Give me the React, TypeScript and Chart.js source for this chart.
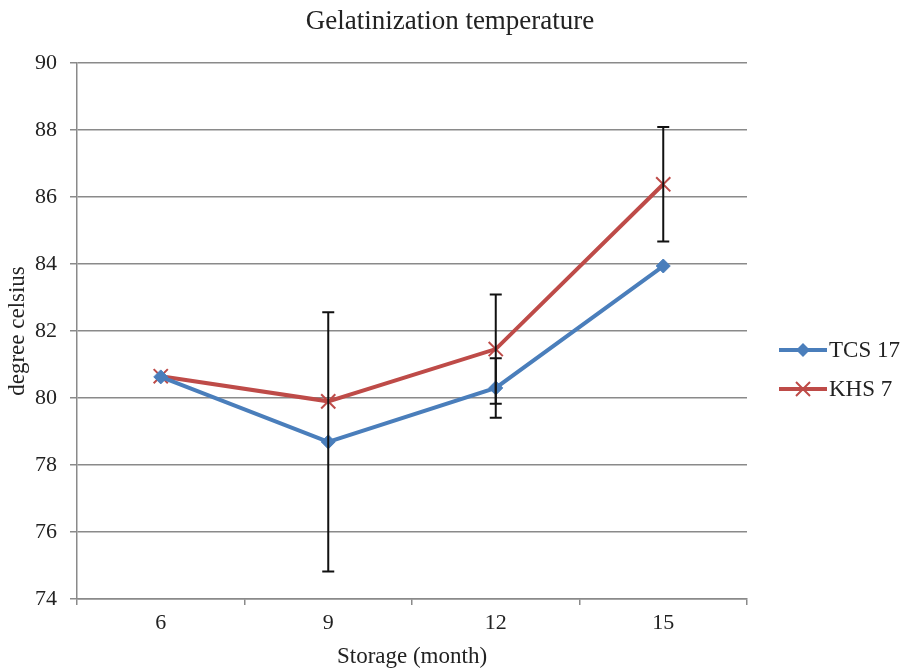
import React, { useEffect, useRef } from "react";
import { Chart, registerables } from "chart.js";

Chart.register(...registerables);

const categories = ["6", "9", "12", "15"];
const tcs17 = [80.63, 78.69, 80.3, 83.94];
const khs7 = [80.65, 79.9, 81.46, 86.38];
const tcs17Err = [0, 3.87, 0.89, 0];
const khs7Err = [0, 0, 1.63, 1.71];
const yTicks = [74, 76, 78, 80, 82, 84, 86, 88, 90];
const titleText = "Gelatinization temperature";

const BLUE = "#4A7EBB";
const RED = "#BE4B48";
const GRID = "#8a8a8a";
const FONT = "'Liberation Serif', 'Times New Roman', serif";

const errorBarPlugin = {
  id: "errorBars",
  afterDatasetsDraw(chart: any) {
    const ctx = chart.ctx;
    const x = chart.scales.x;
    const y = chart.scales.y;
    const errs = [tcs17Err, khs7Err];
    ctx.save();
    ctx.strokeStyle = "#111";
    ctx.lineWidth = 2;
    chart.data.datasets.forEach((ds: any, di: number) => {
      ds.data.forEach((v: number, i: number) => {
        const e = errs[di][i];
        if (!e) return;
        const px = x.getPixelForValue(i);
        const top = y.getPixelForValue(v + e);
        const bot = y.getPixelForValue(v - e);
        ctx.beginPath();
        ctx.moveTo(px, top);
        ctx.lineTo(px, bot);
        ctx.moveTo(px - 6, top);
        ctx.lineTo(px + 6, top);
        ctx.moveTo(px - 6, bot);
        ctx.lineTo(px + 6, bot);
        ctx.stroke();
      });
    });
    ctx.restore();
  },
};

const titleAndLegendPlugin = {
  id: "customLegend",
  afterDraw(chart: any) {
    const ctx = chart.ctx;
    ctx.save();
    ctx.fillStyle = "#222";
    ctx.font = `27px ${FONT}`;
    ctx.textAlign = "center";
    ctx.textBaseline = "middle";
    ctx.fillText(titleText, 450, 22);

    const items = chart.data.datasets;
    const x0 = 779;
    const x1 = 827;
    const ys = [350, 389];
    items.forEach((ds: any, i: number) => {
      const yy = ys[i];
      ctx.strokeStyle = ds.borderColor;
      ctx.lineWidth = 4;
      ctx.beginPath();
      ctx.moveTo(x0, yy);
      ctx.lineTo(x1, yy);
      ctx.stroke();
      const mx = (x0 + x1) / 2;
      if (ds.pointStyle === "rectRot") {
        ctx.fillStyle = ds.borderColor;
        ctx.beginPath();
        ctx.moveTo(mx, yy - 7);
        ctx.lineTo(mx + 7, yy);
        ctx.lineTo(mx, yy + 7);
        ctx.lineTo(mx - 7, yy);
        ctx.closePath();
        ctx.fill();
      } else {
        ctx.lineWidth = 2;
        ctx.beginPath();
        ctx.moveTo(mx - 7, yy - 7);
        ctx.lineTo(mx + 7, yy + 7);
        ctx.moveTo(mx + 7, yy - 7);
        ctx.lineTo(mx - 7, yy + 7);
        ctx.stroke();
      }
      ctx.fillStyle = "#222";
      ctx.font = `23px ${FONT}`;
      ctx.textBaseline = "middle";
      ctx.textAlign = "left";
      ctx.fillText(ds.label, 829, yy + 1);
    });
    ctx.restore();
  },
};

export default function App() {
  const ref = useRef<HTMLCanvasElement | null>(null);
  useEffect(() => {
    if (!ref.current) return;
    const chart = new Chart(ref.current, {
      type: "line",
      data: {
        labels: categories,
        datasets: [
          {
            label: "TCS 17",
            data: tcs17,
            borderColor: BLUE,
            backgroundColor: BLUE,
            borderWidth: 4,
            pointStyle: "rectRot",
            pointRadius: 7,
            pointBackgroundColor: BLUE,
            pointBorderColor: BLUE,
            pointBorderWidth: 1,
            tension: 0,
          },
          {
            label: "KHS 7",
            data: khs7,
            borderColor: RED,
            backgroundColor: RED,
            borderWidth: 4,
            pointStyle: "crossRot",
            pointRadius: 10,
            pointBorderColor: RED,
            pointBorderWidth: 2,
            tension: 0,
          },
        ],
      },
      options: {
        animation: false,
        responsive: false,
        maintainAspectRatio: false,
        layout: { padding: { left: 0, right: 157, top: 63, bottom: 0 } },
        plugins: {
          legend: { display: false },
          tooltip: { enabled: false },
          title: { display: false },
        },
        scales: {
          x: {
            type: "category",
            offset: true,
            grid: {
              offset: true,
              drawOnChartArea: false,
              drawTicks: true,
              tickLength: 6,
              color: GRID,
              lineWidth: 1.5,
            },
            border: { color: GRID, width: 1.5 },
            ticks: {
              color: "#222",
              font: { family: FONT, size: 22 },
              padding: 5,
              maxRotation: 0,
            },
            title: {
              display: true,
              text: "Storage (month)",
              color: "#222",
              font: { family: FONT, size: 23 },
              padding: { top: 0, bottom: 1 },
            },
            afterFit(scale: any) {
              scale.height = 73;
            },
          },
          y: {
            min: 74,
            max: 90,
            afterBuildTicks(scale: any) {
              scale.ticks = yTicks.map((v) => ({ value: v }));
            },
            grid: {
              color: GRID,
              lineWidth: 1.5,
              tickLength: 7,
            },
            border: { color: GRID, width: 1.5 },
            ticks: {
              color: "#222",
              font: { family: FONT, size: 22 },
              padding: 13,
            },
            title: {
              display: true,
              text: "degree celsius",
              color: "#222",
              font: { family: FONT, size: 23 },
              padding: { top: 4, bottom: 0 },
            },
            afterFit(scale: any) {
              scale.width = 77;
            },
          },
        },
      },
      plugins: [errorBarPlugin, titleAndLegendPlugin],
    });
    return () => chart.destroy();
  }, []);
  return (
    <div style={{ position: "absolute", left: 0, top: 0, width: 904, height: 672, background: "#fff" }}>
      <canvas ref={ref} width={904} height={672} style={{ display: "block" }} />
    </div>
  );
}
